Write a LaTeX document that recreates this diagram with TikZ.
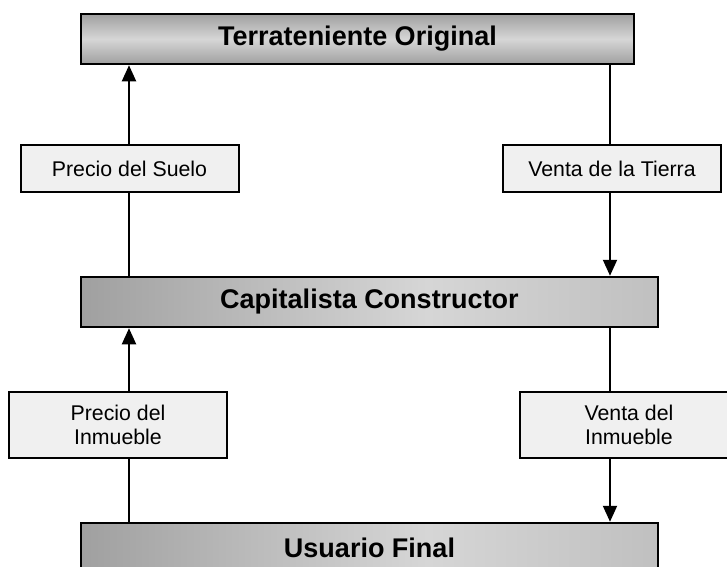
\documentclass[tikz,border=0pt]{standalone}
\usepackage{fontspec}
\setmainfont{Liberation Sans}
\usepackage{tikz}
\usetikzlibrary{arrows.meta}

\definecolor{boxdark}{RGB}{160,160,160}
\definecolor{boxlight}{RGB}{214,214,214}
\definecolor{boxright}{RGB}{192,192,192}
\definecolor{labelfill}{RGB}{240,240,240}

\pgfdeclareverticalshading{bandshade}{100bp}{color(0bp)=(boxdark); color(25bp)=(boxdark); color(50bp)=(boxlight); color(75bp)=(boxdark); color(100bp)=(boxdark)}
\pgfdeclarehorizontalshading{sideshade}{100bp}{color(0bp)=(boxdark); color(25bp)=(boxdark); color(55bp)=(boxlight); color(75bp)=(boxright); color(100bp)=(boxright)}

\begin{document}
\begin{tikzpicture}[x=1pt, y=-1pt,
  agent/.style={rectangle, draw, line width=2.5pt, minimum height=50pt, inner sep=0pt,
    font=\fontsize{27}{30}\selectfont\bfseries},
  flowbox/.style={rectangle, draw, line width=2pt, fill=labelfill, minimum width=218pt, inner sep=0pt,
    align=center, font=\fontsize{21.3}{23.5}\selectfont},
  flow/.style={line width=2pt},
  flowarrow/.style={line width=2pt, -{Triangle[width=14pt,length=16pt]}}]

\clip (0,0) rectangle (727,566);

\node [agent, shading=bandshade, minimum width=553pt] (terra) at (357.5,39) {Terrateniente Original};
\node [agent, shading=sideshade, minimum width=577pt] (capit) at (369.5,302) {Capitalista Constructor};
\node [agent, shading=sideshade, minimum width=577pt] (usuario) at (369.5,548) {Usuario Final};

\node [flowbox, minimum height=47pt] (suelo) at (129.5,168.5) {Precio del Suelo};
\node [flowbox, minimum height=47pt] (tierra) at (612,168.5) {Venta de la Tierra};
\node [flowbox, minimum height=66pt] (precioinm) at (118,425) {Precio del\\Inmueble};
\node [flowbox, minimum height=66pt] (ventainm) at (629,425) {Venta del\\Inmueble};

\coordinate (lx) at (129,0);
\coordinate (rx) at (610,0);

%upper level
\draw [flowarrow] (suelo.north -| lx) -- (terra.south -| lx);
\draw [flow] (capit.north -| lx) -- (suelo.south -| lx);
\draw [flow] (terra.south -| rx) -- (tierra.north -| rx);
\draw [flowarrow] (tierra.south -| rx) -- (capit.north -| rx);
%lower level
\draw [flowarrow] (precioinm.north -| lx) -- (capit.south -| lx);
\draw [flow] (usuario.north -| lx) -- (precioinm.south -| lx);
\draw [flow] (capit.south -| rx) -- (ventainm.north -| rx);
\draw [flowarrow] (ventainm.south -| rx) -- (usuario.north -| rx);
\end{tikzpicture}
\end{document}
